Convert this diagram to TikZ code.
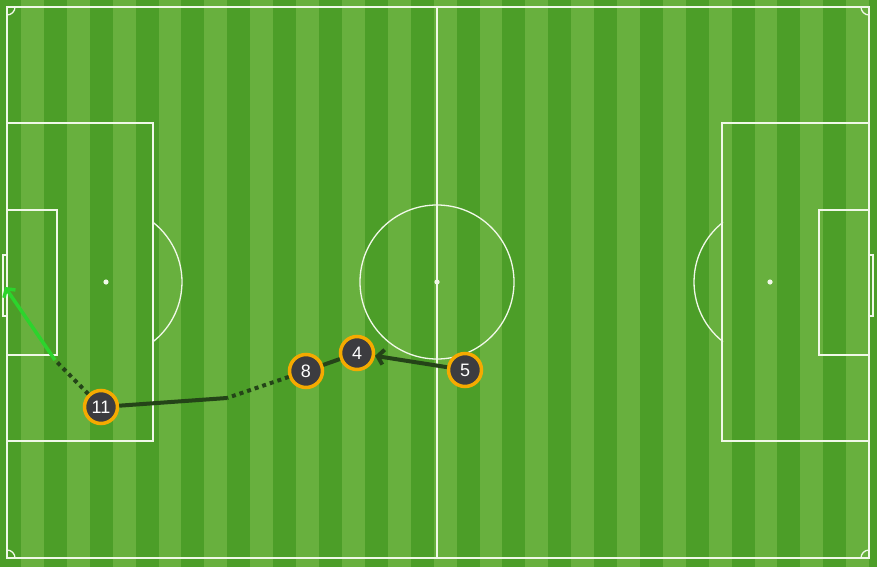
\documentclass[tikz,border=0pt]{standalone}
\usepackage{fontspec}
\setmainfont{Liberation Sans}
\usetikzlibrary{arrows.meta}
\definecolor{grassdark}{RGB}{76,158,40}
\definecolor{grasslight}{RGB}{104,176,62}
\definecolor{chalkwhite}{RGB}{240,248,232}
\definecolor{shirtgrey}{RGB}{60,60,64}
\definecolor{ringorange}{RGB}{245,170,0}
\definecolor{passgreen}{RGB}{36,68,24}
\definecolor{shotgreen}{RGB}{44,212,44}

\begin{document}
\begin{tikzpicture}[x=1pt,y=-1pt,
		chalk/.style={draw=chalkwhite,line width=1.3pt},
		spot/.style={fill=chalkwhite},
		player/.style={circle,fill=shirtgrey,draw=ringorange,line width=3.5pt,minimum size=33pt,inner sep=0pt,text=white,font=\fontsize{18}{18}\selectfont},
		pass/.style={draw=passgreen,line width=4pt},
		run/.style={draw=passgreen,line width=4pt,dash pattern=on 4pt off 4pt},
		shot/.style={draw=shotgreen,line width=3.5pt}]
		\useasboundingbox (0,0) rectangle (877,567);
		\fill [grasslight] (0,0) rectangle (877,567);
		\begin{scope}
			\clip (0,0) rectangle (877,567);
			\foreach \k in {0,...,19}
				\fill [grassdark] (-2+45.85*\k,0) rectangle (21+45.85*\k,567);
		\end{scope}
		\draw [chalk] (7,7) rectangle (869,558);
		\draw [chalk] (437,7) -- (437,558);
		\draw [chalk] (437,282) circle (77);
		\fill [spot] (437,282) circle (2.6);
		\draw [chalk] (7,123) rectangle (153,441);
		\draw [chalk] (7,210) rectangle (57,355);
		\draw [chalk] (3,255) rectangle (7,316);
		\fill [spot] (106,282) circle (2.6);
		\draw [chalk] (106,282) ++(-51.8:76) arc (-51.8:51.8:76);
		\draw [chalk] (722,123) rectangle (869,441);
		\draw [chalk] (819,210) rectangle (869,355);
		\draw [chalk] (869,255) rectangle (873,316);
		\fill [spot] (770,282) circle (2.6);
		\draw [chalk] (770,282) ++(128.2:76) arc (128.2:231.8:76);
		\begin{scope}
			\clip (7,7) rectangle (869,558);
			\foreach \cx/\cy in {7/7,869/7,7/558,869/558}
				\draw [chalk] (\cx,\cy) circle (8);
		\end{scope}
		\node [player] (p11) at (101,407) {11};
		\node [player] (p8) at (306,371) {8};
		\node [player] (p4) at (357,353) {4};
		\node [player] (p5) at (465,370) {5};
		\coordinate (turn) at (227,398);
		\coordinate (shotstart) at (55,360);
		\coordinate (shotend) at (5,287);
		\draw [pass,-{Straight Barb[length=6pt,width=15pt]}] (p5) -- (p4);
		\draw [pass] (p4) -- (p8);
		\draw [run] (p8) -- (turn);
		\draw [pass] (turn) -- (p11);
		\draw [run] (p11) -- (shotstart);
		\draw [shot,-{Straight Barb[length=6pt,width=14pt]}] (shotstart) -- (shotend);
\end{tikzpicture}
\end{document}
